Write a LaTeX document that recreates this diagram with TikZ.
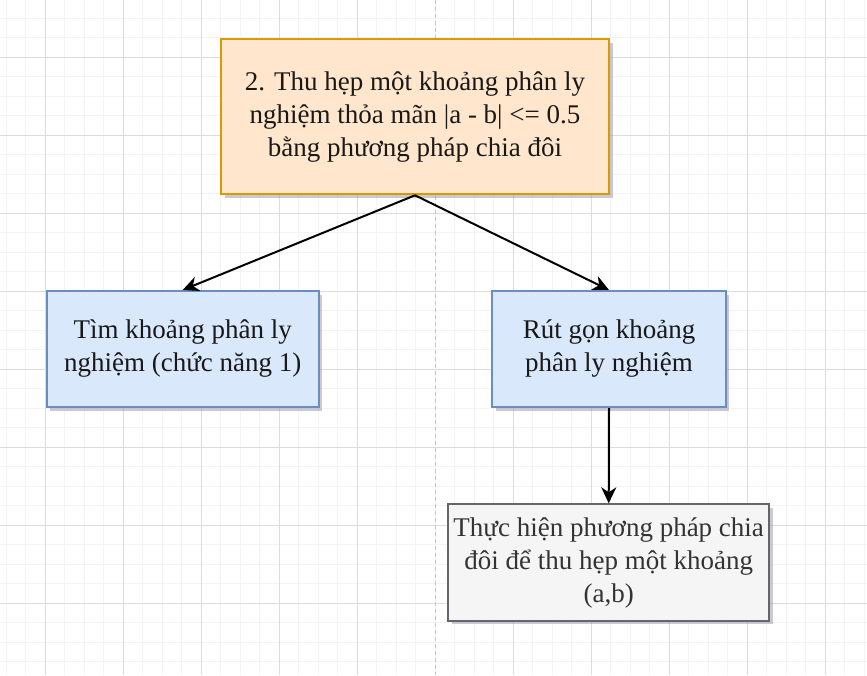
\documentclass[tikz,border=0pt]{standalone}
\usepackage{fontspec}
\setmainfont{Liberation Serif}
\usetikzlibrary{shadows,arrows.meta}
\definecolor{orfill}{HTML}{FFE6CC}
\definecolor{ordraw}{HTML}{D79B00}
\definecolor{blfill}{HTML}{DAE8FC}
\definecolor{bldraw}{HTML}{6C8EBF}
\definecolor{grfill}{HTML}{F5F5F5}
\definecolor{grdraw}{HTML}{666666}
\definecolor{grtext}{HTML}{333333}
\definecolor{gminor}{HTML}{F3F3F3}
\definecolor{gmajor}{HTML}{DCDCDC}
\definecolor{pagebr}{HTML}{C4C4C4}
\definecolor{shad}{HTML}{8A8AA8}
\tikzset{
  box/.style={rectangle, line width=2pt, align=center, text=black!90,
    font=\fontsize{27}{33}\selectfont, inner sep=0pt,
    drop shadow={shadow xshift=3.5pt, shadow yshift=-3.5pt, opacity=0.45, fill=shad}},
  orbox/.style={box, fill=orfill, draw=ordraw},
  blbox/.style={box, fill=blfill, draw=bldraw},
  grbox/.style={box, fill=grfill, draw=grdraw, text=grtext},
  arr/.style={line width=2pt, -{Stealth[length=16pt, width=15pt, inset=5pt]}},
  minorline/.style={gminor, line width=1pt},
  majorline/.style={gmajor, line width=1pt}
}
\begin{document}
\begin{tikzpicture}[x=1pt,y=-1pt]
\useasboundingbox (0,0) rectangle (867,675);
\fill[white] (0,0) rectangle (867,675);
% grid
\foreach \i in {0,...,44} \draw[minorline] ({6.3+19.5*\i},0) -- ({6.3+19.5*\i},675);
\foreach \i in {0,...,35} \draw[minorline] (0,{-1.5+19.5*\i}) -- (867,{-1.5+19.5*\i});
\foreach \i in {0,...,4,6,7,8,9,10} \draw[majorline] ({45.3+78*\i},0) -- ({45.3+78*\i},675);
\foreach \i in {0,...,8} \draw[majorline] (0,{57+78*\i}) -- (867,{57+78*\i});
\draw[pagebr, line width=1pt, dash pattern=on 4pt off 3pt] (435,0) -- (435,675);
% nodes
\node[orbox, minimum width=388pt, minimum height=155pt] (top) at (415,116.8)
  {2. Thu hẹp một khoảng phân ly\\nghiệm thỏa mãn |a - b| <= 0.5\\bằng phương pháp chia đôi};
\node[blbox, minimum width=272pt, minimum height=116pt] (left) at (182.7,349)
  {Tìm khoảng phân ly\\nghiệm (chức năng 1)};
\node[blbox, minimum width=233.4pt, minimum height=116pt] (right) at (609,349)
  {Rút gọn khoảng\\phân ly nghiệm};
\node[grbox, minimum width=320.7pt, minimum height=116.4pt] (bottom) at (608.7,562.5)
  {Thực hiện phương pháp chia\\đôi để thu hẹp một khoảng\\(a,b)};
% connectors
\draw[arr] (top.south) -- (left.north);
\draw[arr] (top.south) -- (right.north);
\draw[arr] (right.south) -- (bottom.north);
\end{tikzpicture}
\end{document}
